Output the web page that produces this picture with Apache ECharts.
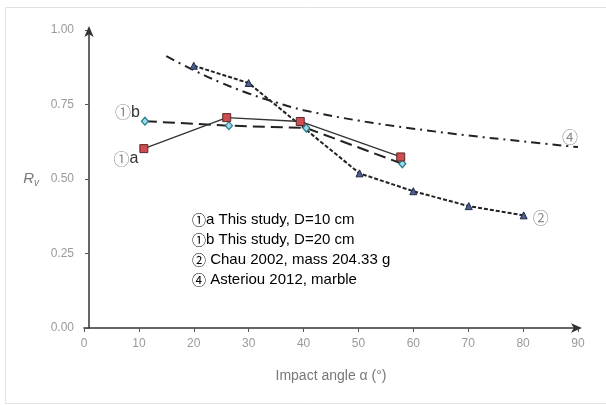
<!DOCTYPE html>
<html><head><meta charset="utf-8">
<script src="https://cdn.jsdelivr.net/npm/echarts@6/dist/echarts.min.js"></script>
<style>html,body{margin:0;padding:0;background:#fff}#c{width:606px;height:405px}</style>
</head><body><div id="c"></div>
<script>
// Data
const xTicks = [0,10,20,30,40,50,60,70,80,90];
const yTicks = [0,0.25,0.5,0.75,1];
const s1aX = [10.9, 26.0, 39.4, 57.7];
const s1aY = [0.602, 0.706, 0.693, 0.574];
const s1bX = [11.1, 26.4, 40.5, 58.0];
const s1bY = [0.694, 0.679, 0.671, 0.551];
const s2X = [20, 30, 50.2, 60, 70.1, 80.1];
const s2Y = [0.880, 0.822, 0.519, 0.459, 0.409, 0.378];
const s4X = [15, 20, 25, 30, 35, 40, 50, 60, 70, 80, 90];
const s4Y = [0.912, 0.865, 0.823, 0.787, 0.757, 0.731, 0.696, 0.669, 0.646, 0.626, 0.607];
const legendLines = [
  ['①','a This study, D=10 cm'],
  ['①','b This study, D=20 cm'],
  ['②',' Chau 2002, mass 204.33 g'],
  ['④',' Asteriou 2012, marble']
];

const FONT = 'Liberation Sans, Arial, sans-serif';
const CIRC = 'Noto Sans CJK SC, DejaVu Sans, sans-serif';
const zip = (xs, ys) => xs.map((x, i) => [x, ys[i]]);

function circLabel(circ, letter, pos, dist, off){
  return {show:true, position:pos, distance:dist, offset:off,
    formatter:'{c|'+circ+'}'+(letter?'{l|'+letter+'}':''),
    rich:{c:{fontFamily:CIRC,fontSize:16,color:'#8a8a8a'},
          l:{fontFamily:FONT,fontSize:16,color:'#333'}}};
}

const d1a = zip(s1aX, s1aY).map((v,i)=> i===0 ? {value:v, label:circLabel('①','a','left',1,[0,10])} : v);
const d1b = zip(s1bX, s1bY).map((v,i)=> i===0 ? {value:v, label:circLabel('①','b','left',1,[0,-9])} : v);
const d2 = zip(s2X, s2Y).map((v,i)=> i===s2X.length-1 ? {value:v, label:circLabel('②','','right',5,[0,3])} : v);
const d4 = zip(s4X, s4Y).map((v,i)=> i===s4X.length-1 ? {value:v, label:circLabel('④','','top',2,[-8,0])} : v);

const chart = echarts.init(document.getElementById('c'), null, {renderer:'canvas'});
chart.setOption({
  animation:false,
  backgroundColor:'#fff',
  grid:{left:84, right:28, top:30, bottom:77, containLabel:false},
  xAxis:{type:'value', min:0, max:90, interval:10,
    axisLine:{show:true, lineStyle:{color:'#333', width:1.5}, symbol:['none','arrow'], symbolSize:[7,11], symbolOffset:[0,4]},
    axisTick:{show:true, length:4, lineStyle:{color:'#555'}},
    axisLabel:{color:'#9a9a9a', fontFamily:FONT, fontSize:12, margin:10},
    splitLine:{show:false},
    name:'Impact angle α (°)', nameLocation:'middle', nameGap:41,
    nameTextStyle:{color:'#777', fontFamily:FONT, fontSize:14}
  },
  yAxis:{type:'value', min:0, max:1, interval:0.25, offset:-5,
    axisLine:{show:true, onZero:false, lineStyle:{color:'#333', width:1.5}, symbol:['none','arrow'], symbolSize:[7,11], symbolOffset:[0,4]},
    axisTick:{show:true, length:4, lineStyle:{color:'#555'}},
    axisLabel:{color:'#9a9a9a', fontFamily:FONT, fontSize:12, margin:15, formatter:v=>v.toFixed(2)},
    splitLine:{show:false},
    name:'{r|R}{s|v}', nameLocation:'middle', nameGap:50, nameRotate:0,
    nameTextStyle:{rich:{r:{fontFamily:FONT,fontStyle:'italic',fontSize:15,color:'#777'},
                         s:{fontFamily:FONT,fontStyle:'italic',fontSize:10,color:'#777',verticalAlign:'bottom',padding:[8,0,0,0]}}}
  },
  series:[
    {type:'line', name:'4', data:d4, smooth:0.4, showSymbol:true, symbol:'circle', symbolSize:1, z:2,
     itemStyle:{color:'rgba(0,0,0,0)'},
     lineStyle:{color:'#222', width:2, type:[9,5,2,5]}},
    {type:'line', name:'2', data:d2, symbol:'triangle', symbolSize:7, z:3,
     lineStyle:{color:'#222', width:2, type:[4,2]},
     itemStyle:{color:'#4f5f8f', borderColor:'#1f2a4a', borderWidth:1}},
    {type:'line', name:'1b', data:d1b, symbol:'diamond', symbolSize:[7,8], z:4,
     lineStyle:{color:'#222', width:2, type:[12,6]},
     itemStyle:{color:'#9fd8e6', borderColor:'#1f7a8c', borderWidth:1.2}},
    {type:'line', name:'1a', data:d1a, symbol:'rect', symbolSize:8, z:5,
     lineStyle:{color:'#333', width:1.3},
     itemStyle:{color:'#cf4c50', borderColor:'#5a2a2a', borderWidth:1}}
  ],
  graphic:[
    {type:'rect', shape:{x:5.5, y:7.5, width:605, height:396}, style:{fill:'none', stroke:'#e2e2e2', lineWidth:1}, silent:true, z:-10},
    {type:'group', left:192, top:212, children: legendLines.map((l,i)=>({
      type:'text', x:0, y:i*20,
      style:{text:'{c|'+l[0]+'}{t|'+l[1]+'}',
        rich:{c:{fontFamily:CIRC,fontSize:14,color:'#8a8a8a'},
              t:{fontFamily:FONT,fontSize:15,color:'#333'}}}
    }))}
  ]
});
</script></body></html>
